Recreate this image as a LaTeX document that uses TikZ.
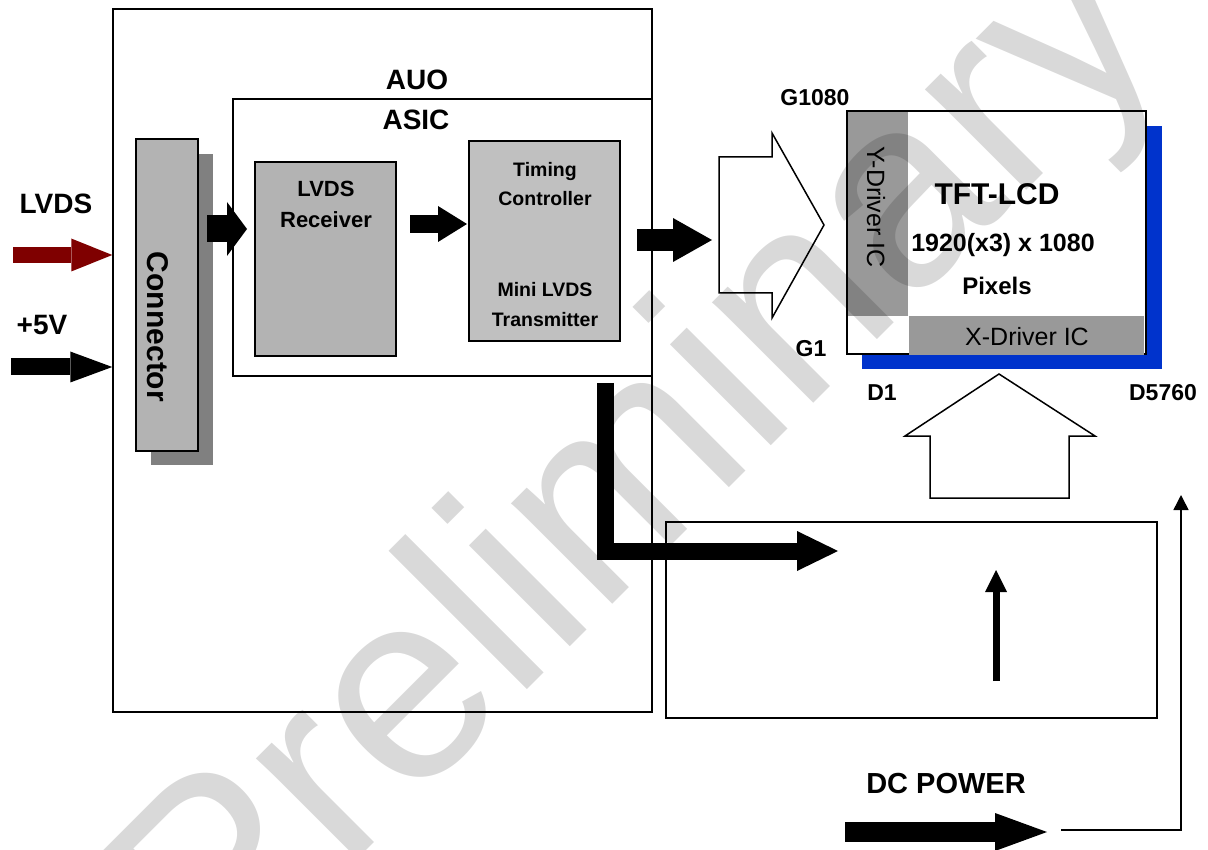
\documentclass[tikz,border=0pt]{standalone}
\usepackage{fontspec}
\setmainfont{Liberation Sans}
\usetikzlibrary{
  arrows.meta,
  positioning
}
\definecolor{lvdsred}{RGB}{127,0,0}
\definecolor{panelblue}{RGB}{0,51,204}
\definecolor{rxgray}{RGB}{179,179,179}
\definecolor{tcgray}{RGB}{192,192,192}
\definecolor{drvgray}{RGB}{153,153,153}
\definecolor{shadowgray}{RGB}{128,128,128}

\begin{document}
\begin{tikzpicture}[x=1pt, y=-1pt,
    every node/.style={inner sep=0pt},
    boldtext/.style={font=\fontsize{#1}{#1}\selectfont\bfseries},
    plaintext/.style={font=\fontsize{#1}{#1}\selectfont},
    block/.style={draw, line width=2pt, rectangle},
    fat/.style n args={3}{line width=#1, -{Triangle[length=#2, width=#3, line width'=0pt]}},
    hollow/.style={draw, line width=1.5pt, fill=white, line join=miter}]
            % Page
            \fill[white] (0,0) rectangle (1208,850);
            \useasboundingbox (0,0) rectangle (1208,850);

            % AUO board and ASIC
            \node[block, line width=1.5pt, minimum width=539pt, minimum height=703pt] (auo) at (382.5,360.5) {};
            \node[boldtext=28, anchor=base] (auolbl) at (417,90) {AUO};
            \node[block, minimum width=419pt, minimum height=277pt] (asic) at (442.5,237.5) {};
            \node[boldtext=28, anchor=base] (asiclbl) at (416,130) {ASIC};

            % LVDS receiver
            \node[block, fill=rxgray, minimum width=141pt, minimum height=194pt] (rx) at (325.5,259) {};
            \node[boldtext=22, anchor=base] (rxl1) at (326,197) {LVDS};
            \node[boldtext=22, anchor=base] (rxl2) at (326,228) {Receiver};

            % Timing controller
            \node[block, fill=tcgray, minimum width=151pt, minimum height=200pt] (tcon) at (544.5,241) {};
            \node[boldtext=19.5, anchor=base] (tcl1) at (545,177) {Timing};
            \node[boldtext=19.5, anchor=base] (tcl2) at (545,206) {Controller};
            \node[boldtext=19.5, anchor=base] (tcl3) at (545,297) {Mini LVDS};
            \node[boldtext=19.5, anchor=base] (tcl4) at (545,327) {Transmitter};

            % Connector with shadow
            \fill[shadowgray] (151,154) rectangle (213,465);
            \node[block, fill=rxgray, minimum width=62pt, minimum height=312pt] (conn) at (167,295) {};
            \node[boldtext=30, rotate=-90] (connlbl) at (158,327) {Connector};

            % Inputs
            \coordinate (lvdsin) at (13,255);
            \coordinate (pwrin) at (11,367);
            \draw[fat={16pt}{41pt}{33pt}, lvdsred] (lvdsin) -- (lvdsin -| auo.west);
            \draw[fat={17pt}{42pt}{31pt}] (pwrin) -- (pwrin -| auo.west);
            \node[boldtext=28, anchor=base] (lvdslbl) at (56,214) {LVDS};
            \node[boldtext=28, anchor=base] (pwrlbl) at (42,335) {+5V};

            % Data path arrows
            \coordinate (connout) at (207,229);
            \coordinate (asicin) at (247,229);
            \draw[fat={27pt}{20pt}{54pt}] (connout) -- (asicin);
            \coordinate (rxout) at (410,224);
            \coordinate (tconin) at (467,224);
            \draw[fat={18pt}{29pt}{36pt}] (rxout) -- (tconin);
            \coordinate (tconout) at (637,240);
            \coordinate (gatein) at (712,240);
            \draw[fat={22pt}{39pt}{44pt}] (tconout) -- (gatein);

            % Gate side arrow
            \draw[hollow] (719,157) -- (772,157) -- (772,133) -- (824,225) -- (772,318) -- (772,293) -- (719,293) -- cycle;

            % TFT-LCD panel
            \fill[panelblue] (862,126) rectangle (1162,369);
            \node[draw, line width=2.5pt, fill=white, minimum width=299pt, minimum height=243pt] (panel) at (996.5,232.5) {};
            \fill[drvgray] (848.3,112.3) rectangle (908,316);
            \fill[drvgray] (909,316) rectangle (1144,355.5);
            \node[plaintext=25, rotate=-90] (ydrv) at (876,207) {Y-Driver IC};
            \node[plaintext=25, anchor=base] (xdrv) at (1027,346) {X-Driver IC};
            \node[boldtext=30, anchor=base] (tftlbl) at (997,205) {TFT-LCD};
            \node[boldtext=25, anchor=base] (reslbl) at (1003,252) {1920(x3) x 1080};
            \node[boldtext=24, anchor=base] (pixlbl) at (997,295) {Pixels};
            \node[boldtext=23, anchor=base] (glast) at (815,106) {G1080};
            \node[boldtext=23, anchor=base] (gfirst) at (811,357) {G1};
            \node[boldtext=23, anchor=base] (dfirst) at (882,400) {D1};
            \node[boldtext=23, anchor=base] (dlast) at (1163,400) {D5760};

            % Source side arrow
            \draw[hollow] (930,498) -- (1069,498) -- (1069,436) -- (1095,436) -- (999,374) -- (905,436) -- (930,436) -- cycle;

            % Power board
            \node[block, line width=1.5pt, minimum width=491pt, minimum height=196pt] (pwrbox) at (911.5,620) {};
            \coordinate (asicdown) at (605,383);
            \coordinate (pwrtip) at (838,551);
            \draw[fat={17pt}{41pt}{40pt}] (asicdown) |- (pwrtip);
            \coordinate (pwrlow) at (996,681);
            \coordinate (pwrhigh) at (996,570);
            \draw[fat={7pt}{22pt}{22pt}] (pwrlow) -- (pwrhigh);

            % DC power input
            \coordinate (dcstart) at (845,832);
            \coordinate (dctip) at (1047,832);
            \draw[fat={20pt}{52pt}{38pt}] (dcstart) -- (dctip);
            \node[boldtext=29, anchor=base] (dclbl) at (946,793) {DC POWER};
            \coordinate (feedstart) at (1061,830);
            \coordinate (feedend) at (1181,495);
            \draw[line width=1.5pt, -{Triangle[length=15pt, width=15pt]}] (feedstart) -| (feedend);

            % Watermark
            \node[plaintext=270, text opacity=0.15, rotate=45, anchor=base] (wmark) at (695,522) {Preliminary};
        \end{tikzpicture}
\end{document}
